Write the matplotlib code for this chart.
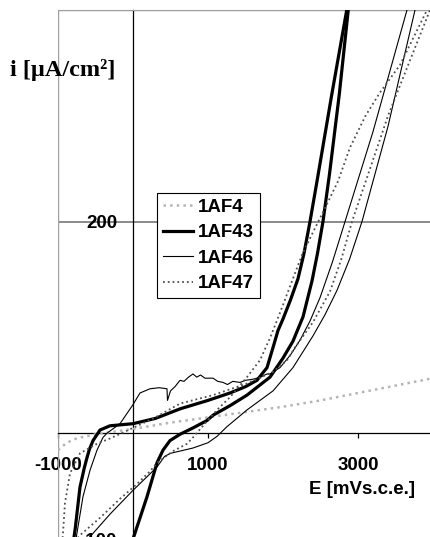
import matplotlib
matplotlib.use('Agg')
import matplotlib.pyplot as plt
from matplotlib.patches import Rectangle

plt.rcParams['axes.unicode_minus'] = False

# potential E [mV vs s.c.e.] and current density i [uA/cm2]
af4_e = [-1000, -900, -800, -700, -500, -300, 0, 500, 1000, 1500, 2000, 2500, 3000, 3500, 4000]
af4_i = [-16, -10, -6, -4, -1, 1, 4, 10, 15, 20, 25, 31, 38, 45, 52]

af43_up_e = [-790, -770, -707, -650, -613, -580, -533, -440, -307, 0, 300, 627, 1000, 1293,
             1500, 1653, 1787, 1867, 1933, 2000, 2100, 2200, 2280, 2360, 2453, 2650, 2850]
af43_up_i = [-100, -90, -51, -33, -23, -15, -7, 3, 7, 9, 14, 23, 31, 38,
             44, 50, 62, 81, 97, 108, 126, 146, 170, 200, 238, 320, 400]
af43_lo_e = [0, 187, 320, 400, 493, 627, 800, 987, 1067, 1293, 1520, 1827, 2000, 2133,
             2267, 2387, 2460, 2533, 2620, 2750, 2870]
af43_lo_i = [-100, -60, -28, -16, -7, -1, 5, 12, 17, 26, 36, 53, 71, 87,
             110, 144, 170, 200, 245, 320, 400]

af46_up_e = [-760, -667, -573, -480, -400, -347, -250, -173, 0, 93, 227, 350, 453, 460,
             500, 560, 627, 680, 740, 800, 850, 900, 960, 1067, 1130, 1200, 1260, 1330,
             1427, 1500, 1600, 1700, 1787, 1827, 1960, 2100, 2227, 2360, 2493, 2660, 2827,
             3200, 3653]
af46_up_i = [-100, -60, -35, -16, -4, 0, 5, 9, 27, 38, 42, 43, 42, 31,
             40, 44, 50, 49, 53, 56, 53, 55, 52, 52, 49, 48, 46, 49,
             48, 50, 51, 53, 56, 56, 62, 74, 88, 106, 128, 162, 200,
             285, 400]
af46_lo_e = [-600, -300, 0, 320, 420, 500, 800, 1000, 1120, 1250, 1520, 1867, 2133, 2400,
             2560, 2720, 2890, 3053, 3400, 3760]
af46_lo_i = [-100, -76, -54, -32, -22, -19, -14, -9, -3, 6, 22, 40, 62, 92,
             112, 135, 165, 200, 290, 400]

af47_a_e = [-940, -933, -907, -840, -707, -480, -307, 0, 300, 627, 1067, 1520, 1867, 2053,
            2160, 2400, 2627, 2780, 2920, 3400, 3960]
af47_a_i = [-100, -94, -66, -38, -19, -10, -5, 5, 15, 28, 36, 47, 58, 69,
            81, 105, 134, 165, 200, 300, 400]
af47_b_e = [-750, -700, -440, -173, 53, 227, 320, 533, 720, 800, 933, 1120, 1293, 1520,
            1693, 1827, 1950, 2100, 2250, 2400, 2520, 2733, 2893, 3100, 3293, 3560, 3920]
af47_b_i = [-100, -96, -80, -62, -48, -36, -28, -17, -10, -4, 7, 22, 34, 53,
            69, 90, 112, 140, 168, 190, 207, 238, 270, 300, 322, 348, 400]

x_ticks = [-1000, 1000, 3000]
y_ticks = [-100, 200]

W, H = 431, 537
fig = plt.figure(figsize=(W / 100, H / 100), dpi=100)
# plot area runs past the right and bottom edges, as in the cropped original
ax = fig.add_axes([58 / W, 1 - 539 / H, 375 / W, 529 / H])
ax.set_xlim(-1000, 4000)
ax.set_ylim(-100, 400)

ax.plot(af4_e, af4_i, color='#b5b5b5', lw=1.8, ls=':', zorder=3, label='1AF4')
ax.plot(af43_up_e, af43_up_i, color='black', lw=2.3, zorder=3, label='1AF43')
ax.plot(af43_lo_e, af43_lo_i, color='black', lw=2.3, zorder=3)
ax.plot(af46_up_e, af46_up_i, color='black', lw=0.8, zorder=3, label='1AF46')
ax.plot(af46_lo_e, af46_lo_i, color='black', lw=0.8, zorder=3)
ax.plot(af47_a_e, af47_a_i, color='#505050', lw=1.3, ls=':', zorder=3, label='1AF47')
ax.plot(af47_b_e, af47_b_i, color='#505050', lw=1.3, ls=':', zorder=3)

# axes cross at zero
for s in ['left', 'bottom']:
    ax.spines[s].set_position(('data', 0))
    ax.spines[s].set_color('black')
    ax.spines[s].set_linewidth(0.9)
ax.spines['top'].set_color('#a0a0a0')
ax.spines['right'].set_color('#a0a0a0')
ax.add_patch(Rectangle((0, 0), 1, 1, transform=ax.transAxes, fill=False,
                       edgecolor='#a0a0a0', lw=1.0, zorder=1))

ax.set_xticks(x_ticks)
ax.set_yticks(y_ticks)
ax.tick_params(axis='x', direction='out', length=3.6, width=0.9, pad=13.5)
ax.tick_params(axis='y', length=0, pad=11.5)
for lab in ax.get_xticklabels() + ax.get_yticklabels():
    lab.set_fontfamily('Liberation Sans')
    lab.set_fontweight('bold')
    lab.set_fontsize(13.5)
ax.grid(axis='y', color='#777777', lw=1.2)
ax.set_axisbelow(True)

fig.text(10 / W, 1 - 70 / H, 'i [µA/cm²]', family='Liberation Serif', weight='bold',
         fontsize=17.5, ha='left', va='center')
fig.text(415 / W, 1 - 490 / H, 'E [mVs.c.e.]', family='Liberation Sans', weight='bold',
         fontsize=13.5, ha='right', va='center')

leg = ax.legend(loc='upper left', bbox_to_anchor=(157 / W, 1 - 193 / H),
                bbox_transform=fig.transFigure, borderaxespad=0, fancybox=False,
                framealpha=1, edgecolor='black', handlelength=1.6, handletextpad=0.3,
                labelspacing=0.45, borderpad=0.3,
                prop={'family': 'Liberation Sans', 'weight': 'bold', 'size': 13.5})
leg.get_frame().set_linewidth(0.8)
leg.set_zorder(5)

fig.savefig('out.png', dpi=100)
